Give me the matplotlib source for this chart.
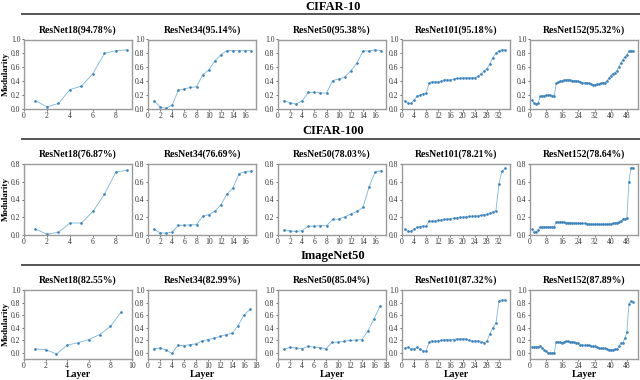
import numpy as np
import matplotlib
matplotlib.use("Agg")
import matplotlib.pyplot as plt
from matplotlib.lines import Line2D
from matplotlib.ticker import MultipleLocator

plt.rcParams["font.family"] = ["Liberation Serif", "DejaVu Serif"]

W, H = 640, 380

datasets = ["CIFAR-10", "CIFAR-100", "ImageNet50"]
models = ["ResNet18", "ResNet34", "ResNet50", "ResNet101", "ResNet152"]
acc = [
    ["94.78", "95.14", "95.38", "95.18", "95.32"],
    ["76.87", "76.69", "78.03", "78.21", "78.64"],
    ["82.55", "82.99", "85.04", "87.32", "87.89"],
]

# ---- CIFAR-10 ----
c10_r18 = [0.12, 0.03, 0.08, 0.28, 0.33, 0.51, 0.80, 0.84, 0.85]
c10_r34 = [0.12, 0.03, 0.01, 0.06, 0.27, 0.29, 0.31, 0.32, 0.49, 0.56, 0.69, 0.78,
           0.84, 0.84, 0.84, 0.84, 0.84]
c10_r50 = [0.12, 0.09, 0.07, 0.12, 0.24, 0.24, 0.23, 0.23, 0.41, 0.43, 0.46, 0.55,
           0.66, 0.83, 0.84, 0.85, 0.84]
c10_r101 = [0.12, 0.08, 0.08, 0.13, 0.19, 0.20, 0.22, 0.23, 0.38, 0.39, 0.39, 0.39,
            0.40, 0.42, 0.42, 0.42, 0.43, 0.44, 0.44, 0.45, 0.45, 0.45, 0.45, 0.45,
            0.47, 0.50, 0.54, 0.58, 0.65, 0.74, 0.80, 0.84, 0.85, 0.85]
c10_r152 = [0.13, 0.08, 0.07, 0.08, 0.18, 0.19, 0.19, 0.20, 0.20, 0.20, 0.19, 0.19,
            0.37, 0.39, 0.40, 0.41, 0.42, 0.42, 0.42, 0.42, 0.41, 0.41, 0.40, 0.40,
            0.39, 0.38, 0.38, 0.38, 0.37, 0.36, 0.35, 0.35, 0.36, 0.36, 0.37, 0.38,
            0.38, 0.40, 0.44, 0.48, 0.51, 0.52, 0.55, 0.61, 0.66, 0.71, 0.75, 0.78,
            0.83, 0.84, 0.84]

# ---- CIFAR-100 ----
c100_r18 = [0.065, 0.01, 0.03, 0.135, 0.135, 0.265, 0.46, 0.71, 0.73]
c100_r34 = [0.065, 0.025, 0.02, 0.035, 0.11, 0.11, 0.115, 0.115, 0.21, 0.23, 0.265,
            0.34, 0.46, 0.53, 0.69, 0.715, 0.72]
c100_r50 = [0.06, 0.045, 0.04, 0.05, 0.10, 0.10, 0.105, 0.105, 0.175, 0.18, 0.205,
            0.235, 0.265, 0.31, 0.54, 0.71, 0.725]
c100_r101 = [0.065, 0.04, 0.04, 0.07, 0.085, 0.095, 0.10, 0.10, 0.16, 0.155, 0.16,
             0.165, 0.17, 0.175, 0.18, 0.185, 0.19, 0.195, 0.20, 0.20, 0.205, 0.21,
             0.21, 0.215, 0.215, 0.22, 0.23, 0.235, 0.245, 0.26, 0.275, 0.58, 0.72,
             0.75]
c100_r152 = [0.065, 0.035, 0.035, 0.06, 0.09, 0.09, 0.09, 0.09, 0.09, 0.09, 0.09,
             0.095, 0.145, 0.145, 0.145, 0.145, 0.145, 0.14, 0.14, 0.14, 0.135, 0.135,
             0.13, 0.13, 0.13, 0.13, 0.13, 0.125, 0.125, 0.125, 0.12, 0.12, 0.12,
             0.12, 0.12, 0.12, 0.12, 0.12, 0.125, 0.125, 0.13, 0.135, 0.14, 0.15,
             0.16, 0.175, 0.185, 0.19, 0.60, 0.76, 0.76]

# ---- ImageNet50 ----
in_r18 = [0.06, 0.05, -0.02, 0.12, 0.16, 0.21, 0.29, 0.42, 0.65]
in_r34 = [0.065, 0.075, 0.045, -0.01, 0.12, 0.115, 0.13, 0.14, 0.19, 0.21, 0.23,
          0.26, 0.29, 0.31, 0.43, 0.60, 0.69]
in_r50 = [0.055, 0.085, 0.075, 0.065, 0.10, 0.09, 0.08, 0.065, 0.165, 0.17, 0.185,
          0.195, 0.20, 0.21, 0.35, 0.54, 0.74]
in_r101 = [0.07, 0.09, 0.06, 0.06, 0.09, 0.06, 0.03, 0.03, 0.17, 0.19, 0.18, 0.19,
           0.20, 0.21, 0.21, 0.21, 0.21, 0.22, 0.22, 0.22, 0.22, 0.20, 0.19, 0.19,
           0.19, 0.17, 0.16, 0.18, 0.30, 0.40, 0.47, 0.82, 0.84, 0.84]
in_r152 = [0.09, 0.09, 0.09, 0.09, 0.11, 0.08, 0.05, 0.02, 0.00, 0.00, 0.00, 0.00,
           0.17, 0.17, 0.17, 0.16, 0.17, 0.18, 0.18, 0.17, 0.17, 0.17, 0.16, 0.15,
           0.13, 0.12, 0.12, 0.12, 0.12, 0.11, 0.10, 0.10, 0.09, 0.08, 0.07, 0.07,
           0.07, 0.06, 0.05, 0.05, 0.05, 0.06, 0.06, 0.10, 0.15, 0.16, 0.23, 0.33,
           0.78, 0.82, 0.81]

series = [
    [c10_r18, c10_r34, c10_r50, c10_r101, c10_r152],
    [c100_r18, c100_r34, c100_r50, c100_r101, c100_r152],
    [in_r18, in_r34, in_r50, in_r101, in_r152],
]

col_left = [24, 148, 278, 402, 530]
col_w = 108
row_top = [39.5, 164, 290]
row_bot = [109, 235, 359]
head_y = [7, 131, 256]
rule_y = [14, 139, 265]
x_step = [2, 2, 2, 4, 8]

line_c = "#7ab6dc"
dot_c = "#3b82bd"
frame_c = "#9a9a9a"

fig = plt.figure(figsize=(W / 100, H / 100), dpi=100)

for r in range(3):
    fig.text(333 / W, 1 - head_y[r] / H, datasets[r], ha="center", va="center",
             fontsize=9, fontweight="bold")
    fig.add_artist(Line2D([22 / W, 1.0], [1 - rule_y[r] / H] * 2, color="#555555",
                          lw=1.4, transform=fig.transFigure))
    for c in range(5):
        ax = fig.add_axes([col_left[c] / W, 1 - row_bot[r] / H, col_w / W,
                           (row_bot[r] - row_top[r]) / H])
        y = series[r][c]
        x = np.arange(1, len(y) + 1)
        ax.plot(x, y, color=line_c, lw=0.6, marker="o", ms=0.9,
                mfc=dot_c, mec=dot_c)
        ax.set_xlim(left=0)
        if r == 2 and c < 3:
            ax.set_xlim(0, [10, 18, 18][c])
        if r == 1:
            ax.set_ylim(0, 0.8)
        elif r == 2:
            ax.set_ylim(-0.1, 1.0)
        else:
            ax.set_ylim(0, 1.0)
        ax.xaxis.set_major_locator(MultipleLocator(x_step[c]))
        ax.yaxis.set_major_locator(MultipleLocator(0.2))
        ax.yaxis.set_major_formatter(plt.FormatStrFormatter("%.1f"))
        ax.tick_params(labelsize=5.5, length=1.5, width=0.5, pad=1,
                       colors="#333333")
        for s in ax.spines.values():
            s.set_color(frame_c)
            s.set_linewidth(1.0)
        ax.set_title(f"{models[c]}({acc[r][c]}%)", fontsize=7,
                     fontweight="bold", pad=5)
        if c == 0:
            ax.set_ylabel("Modularity", fontsize=6.5, fontweight="bold")
            ax.yaxis.set_label_coords(-0.135, 0.5)
        if r == 2:
            ax.set_xlabel("Layer", fontsize=7, fontweight="bold", labelpad=0)

fig.savefig("out.png", dpi=100)
